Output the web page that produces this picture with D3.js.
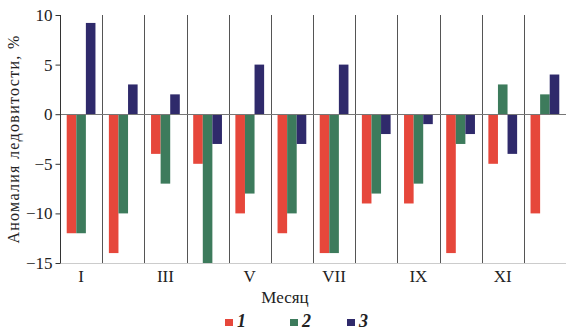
<!DOCTYPE html>
<html>
<head>
<meta charset="utf-8">
<script src="https://cdn.jsdelivr.net/npm/d3@7"></script>
<style>
  body { margin: 0; background: #fff; }
  svg { display: block; }
  text { font-family: "Liberation Serif", "DejaVu Serif", serif; fill: #222; }
</style>
</head>
<body>
<div id="chart"></div>
<script>
// data
var months = ["I", "II", "III", "IV", "V", "VI", "VII", "VIII", "IX", "X", "XI", "XII"];
var series = ["1", "2", "3"];
var s1 = [-12, -14, -4, -5, -10, -12, -14, -9, -9, -14, -5, -10];
var s2 = [-12, -10, -7, -15, -8, -10, -14, -8, -7, -3, 3, 2];
var s3 = [9.2, 3, 2, -3, 5, -3, 5, -2, -1, -2, -4, 4];
var yTicks = [-15, -10, -5, 0, 5, 10];
var colors = ["#e6473b", "#3d7b5c", "#2f2a6b"];

var width = 566, height = 331;
var plotL = 60, plotR = 566, plotT = 15, plotB = 263;

var svg = d3.select("#chart").append("svg")
  .attr("width", width)
  .attr("height", height);

var x = d3.scaleBand().domain(months).range([plotL, plotR]).padding(0);
var x1 = d3.scaleBand().domain(series).range([0, x.bandwidth()]).paddingInner(0).paddingOuter(0.7);
var y = d3.scaleLinear().domain([-15, 10]).range([plotB, plotT]);

// month separators
svg.append("g").selectAll("line")
  .data(months.slice(1))
  .enter().append("line")
  .attr("x1", function (d) { return Math.round(x(d)) + 0.5; })
  .attr("x2", function (d) { return Math.round(x(d)) + 0.5; })
  .attr("y1", plotT)
  .attr("y2", plotB)
  .attr("stroke", "#555")
  .attr("stroke-width", 1);

// bottom line
svg.append("line")
  .attr("x1", plotL).attr("x2", plotR)
  .attr("y1", y(-15) + 0.5).attr("y2", y(-15) + 0.5)
  .attr("stroke", "#ccc");

// bars
var rows = months.map(function (m, i) {
  return { month: m, vals: [s1[i], s2[i], s3[i]] };
});

var groups = svg.append("g").selectAll("g")
  .data(rows)
  .enter().append("g")
  .attr("transform", function (d) { return "translate(" + x(d.month) + ",0)"; });

groups.selectAll("rect")
  .data(function (d) { return d.vals.map(function (v, j) { return { key: series[j], v: v, j: j }; }); })
  .enter().append("rect")
  .attr("x", function (d) { return x1(d.key); })
  .attr("width", x1.bandwidth())
  .attr("y", function (d) { return y(Math.max(0, d.v)); })
  .attr("height", function (d) { return Math.abs(y(d.v) - y(0)); })
  .attr("fill", function (d) { return colors[d.j]; });

// zero line
svg.append("line")
  .attr("x1", plotL).attr("x2", plotR)
  .attr("y1", Math.round(y(0)) + 0.5).attr("y2", Math.round(y(0)) + 0.5)
  .attr("stroke", "#777");

// y axis
var yAxis = d3.axisLeft(y).tickValues(yTicks).tickSize(5).tickPadding(3);
var ga = svg.append("g")
  .attr("transform", "translate(" + (plotL + 0.5) + ",0)")
  .call(yAxis);
ga.select(".domain").attr("stroke", "#333").attr("d", "M0," + plotT + "V" + plotB);
ga.selectAll(".tick line").attr("stroke", "#333");
ga.selectAll("text").attr("font-size", 17).attr("fill", "#222")
  .attr("font-family", "Liberation Serif, serif");

// x labels (odd months)
svg.append("g").selectAll("text")
  .data(months.filter(function (d, i) { return i % 2 === 0; }))
  .enter().append("text")
  .attr("x", function (d) { return x(d) + x.bandwidth() / 2; })
  .attr("y", 282)
  .attr("text-anchor", "middle")
  .attr("font-size", 17)
  .text(function (d) { return d; });

// axis titles
svg.append("text")
  .attr("x", 285).attr("y", 303)
  .attr("text-anchor", "middle")
  .attr("font-size", 17)
  .text("Месяц");

svg.append("text")
  .attr("transform", "translate(19,139) rotate(-90)")
  .attr("text-anchor", "middle")
  .attr("font-size", 16)
  .attr("letter-spacing", 1.3)
  .text("Аномалия ледовитости, %");

// legend
var legX = [225, 290, 347];
var leg = svg.append("g").selectAll("g")
  .data(series)
  .enter().append("g")
  .attr("transform", function (d, i) { return "translate(" + legX[i] + ",319)"; });
leg.append("rect")
  .attr("width", 8).attr("height", 7)
  .attr("fill", function (d, i) { return colors[i]; });
leg.append("text")
  .attr("x", 12).attr("y", 8)
  .attr("font-size", 18)
  .attr("font-style", "italic")
  .attr("font-weight", "bold")
  .text(function (d) { return d; });
</script>
</body>
</html>
